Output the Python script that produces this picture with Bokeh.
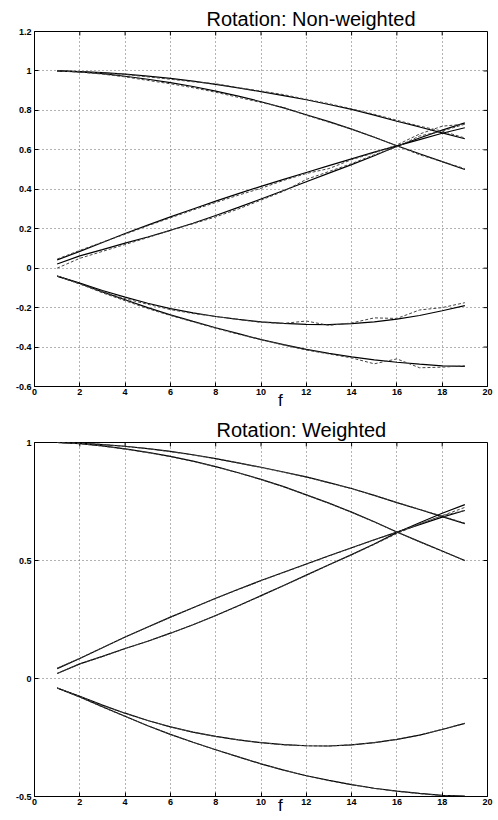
import math
from bokeh.plotting import figure
from bokeh.models import FixedTicker, Range1d, Title, LinearAxis
from bokeh.layouts import column
from bokeh.embed import file_html
from bokeh.resources import INLINE

# frequency index
f = list(range(1, 20))

# true rotation-matrix elements (smooth curves)
true_a = [1.0, 0.997, 0.991, 0.984, 0.974, 0.962, 0.948, 0.932, 0.914, 0.895, 0.875, 0.854, 0.830, 0.805, 0.776, 0.745, 0.716, 0.686, 0.656]
true_b = [1.0, 0.995, 0.986, 0.973, 0.958, 0.941, 0.921, 0.898, 0.872, 0.844, 0.813, 0.778, 0.743, 0.705, 0.664, 0.621, 0.580, 0.540, 0.500]
true_c = [0.042, 0.085, 0.130, 0.176, 0.218, 0.260, 0.300, 0.340, 0.378, 0.415, 0.450, 0.485, 0.520, 0.554, 0.588, 0.620, 0.652, 0.684, 0.712]
true_d = [0.021, 0.062, 0.094, 0.127, 0.158, 0.192, 0.228, 0.267, 0.308, 0.351, 0.394, 0.438, 0.482, 0.525, 0.570, 0.618, 0.660, 0.700, 0.737]
true_e = [-0.040, -0.075, -0.113, -0.147, -0.178, -0.205, -0.227, -0.245, -0.260, -0.272, -0.280, -0.285, -0.286, -0.281, -0.272, -0.258, -0.240, -0.216, -0.190]
true_f = [-0.040, -0.078, -0.120, -0.160, -0.200, -0.237, -0.270, -0.302, -0.332, -0.362, -0.388, -0.412, -0.432, -0.450, -0.465, -0.477, -0.487, -0.495, -0.498]

# estimates, non-weighted rotation
nw_a = [1.0, 0.997, 0.990, 0.982, 0.970, 0.958, 0.945, 0.935, 0.915, 0.898, 0.880, 0.856, 0.834, 0.808, 0.780, 0.750, 0.720, 0.695, 0.660]
nw_b = [1.0, 0.994, 0.984, 0.970, 0.952, 0.935, 0.915, 0.892, 0.866, 0.840, 0.815, 0.775, 0.740, 0.705, 0.665, 0.620, 0.575, 0.540, 0.505]
nw_c = [0.046, 0.090, 0.132, 0.172, 0.215, 0.255, 0.295, 0.333, 0.370, 0.405, 0.445, 0.480, 0.505, 0.550, 0.585, 0.625, 0.680, 0.720, 0.730]
nw_d = [0.000, 0.050, 0.085, 0.120, 0.155, 0.192, 0.225, 0.260, 0.300, 0.345, 0.390, 0.450, 0.490, 0.530, 0.575, 0.615, 0.670, 0.695, 0.730]
nw_e = [-0.040, -0.080, -0.120, -0.155, -0.183, -0.210, -0.230, -0.245, -0.260, -0.275, -0.280, -0.268, -0.290, -0.278, -0.252, -0.255, -0.212, -0.200, -0.175]
nw_f = [-0.040, -0.080, -0.125, -0.165, -0.205, -0.240, -0.272, -0.305, -0.335, -0.362, -0.390, -0.415, -0.435, -0.455, -0.485, -0.460, -0.505, -0.502, -0.495]

# estimates, weighted rotation
w_a = [1.0, 0.998, 0.992, 0.983, 0.974, 0.961, 0.947, 0.931, 0.913, 0.894, 0.874, 0.853, 0.829, 0.804, 0.776, 0.746, 0.717, 0.688, 0.658]
w_b = [1.0, 0.995, 0.985, 0.972, 0.957, 0.940, 0.920, 0.897, 0.871, 0.843, 0.812, 0.778, 0.742, 0.704, 0.663, 0.620, 0.579, 0.539, 0.499]
w_c = [0.044, 0.086, 0.131, 0.175, 0.217, 0.259, 0.300, 0.339, 0.377, 0.414, 0.449, 0.484, 0.519, 0.553, 0.587, 0.620, 0.655, 0.690, 0.725]
w_d = [0.021, 0.062, 0.093, 0.126, 0.158, 0.191, 0.228, 0.266, 0.307, 0.350, 0.393, 0.437, 0.481, 0.524, 0.568, 0.614, 0.655, 0.690, 0.712]
w_e = [-0.040, -0.076, -0.114, -0.148, -0.178, -0.205, -0.228, -0.246, -0.260, -0.272, -0.281, -0.285, -0.286, -0.281, -0.272, -0.258, -0.240, -0.215, -0.190]
w_f = [-0.040, -0.079, -0.121, -0.161, -0.200, -0.237, -0.271, -0.302, -0.332, -0.362, -0.388, -0.412, -0.433, -0.450, -0.466, -0.478, -0.488, -0.496, -0.500]

x_ticks = [0, 2, 4, 6, 8, 10, 12, 14, 16, 18, 20]
top_y_ticks = [-0.6, -0.4, -0.2, 0, 0.2, 0.4, 0.6, 0.8, 1.0, 1.2]
top_y_labels = ["-0.6", "-0.4", "-0.2", "0", "0.2", "0.4", "0.6", "0.8", "1", "1.2"]
bot_y_ticks = [-0.5, 0, 0.5, 1.0]
bot_y_labels = ["-0.5", "0", "0.5", "1"]
x_label = "f"

FONT = "Liberation Sans"
X_LO, X_HI = 0, 20
X_LABEL_POS = 10.85  # where the x-axis name sits (right of centre, as in the original)


def make_panel(title, height, y_lo, y_hi, y_ticks, y_labels, est, title_offset,
               border_top, border_bottom, f_standoff):
    p = figure(width=495, height=height, output_backend="svg", toolbar_location=None,
               x_range=Range1d(X_LO, X_HI), y_range=Range1d(y_lo, y_hi),
               min_border_left=34, min_border_right=8,
               min_border_top=border_top, min_border_bottom=border_bottom)
    p.add_layout(Title(text=title, text_font=FONT, text_font_size="20px",
                       text_font_style="normal", text_color="black",
                       align="left", offset=title_offset, standoff=3), "above")
    p.outline_line_color = "black"
    p.outline_line_width = 1
    p.background_fill_color = "white"
    p.border_fill_color = "white"

    for ax, ticks in ((p.xaxis[0], x_ticks), (p.yaxis[0], y_ticks)):
        ax.ticker = FixedTicker(ticks=ticks)
        ax.major_tick_in = 4
        ax.major_tick_out = 0
        ax.minor_tick_line_color = None
        ax.axis_line_color = "black"
        ax.major_tick_line_color = "black"
        ax.major_label_text_font = FONT
        ax.major_label_text_font_style = "bold"
        ax.major_label_text_font_size = "9px"
        ax.major_label_text_color = "black"
        ax.major_label_standoff = 3
    p.yaxis[0].major_label_overrides = {t: l for t, l in zip(y_ticks, y_labels)}
    p.xaxis[0].major_label_overrides = {t: str(t) for t in x_ticks}
    p.xaxis[0].major_label_standoff = 2

    # x-axis name "f": a label-only axis tucked under the tick labels
    name_ax = LinearAxis(ticker=FixedTicker(ticks=[X_LABEL_POS]))
    name_ax.major_label_overrides = {X_LABEL_POS: x_label}
    name_ax.axis_line_color = None
    name_ax.major_tick_line_color = None
    name_ax.minor_tick_line_color = None
    name_ax.major_tick_in = 0
    name_ax.major_tick_out = 0
    name_ax.major_label_standoff = f_standoff
    name_ax.major_label_text_font = FONT
    name_ax.major_label_text_font_size = "17px"
    name_ax.major_label_text_font_style = "normal"
    name_ax.major_label_text_color = "black"
    p.add_layout(name_ax, "below")

    # inward tick marks on the top and right box edges
    p.ray(x=x_ticks, y=[y_hi] * len(x_ticks), length=4, length_units="screen",
          angle=-math.pi / 2, line_color="black", line_width=1)
    p.ray(x=[X_HI] * len(y_ticks), y=y_ticks, length=4, length_units="screen",
          angle=math.pi, line_color="black", line_width=1)

    p.xgrid.ticker = FixedTicker(ticks=x_ticks)
    p.ygrid.ticker = FixedTicker(ticks=y_ticks)
    for g in (p.xgrid, p.ygrid):
        g.grid_line_color = "#666666"
        g.grid_line_dash = "1 3"
        g.grid_line_width = 1

    for s in (true_a, true_b, true_c, true_d, true_e, true_f):
        p.line(f, s, line_color="black", line_width=1.2)
    for s in est:
        p.line(f, s, line_color="#444444", line_width=1, line_dash="3 2")
    return p


p1 = make_panel("Rotation: Non-weighted", 413, -0.6, 1.2, top_y_ticks, top_y_labels,
                (nw_a, nw_b, nw_c, nw_d, nw_e, nw_f), 172, 31, 27, -7)
p2 = make_panel("Rotation: Weighted", 404, -0.5, 1.0, bot_y_ticks, bot_y_labels,
                (w_a, w_b, w_c, w_d, w_e, w_f), 182, 29, 20, -12)

layout = column(p1, p2, spacing=0)
open("out.html", "w").write(file_html(layout, INLINE))
